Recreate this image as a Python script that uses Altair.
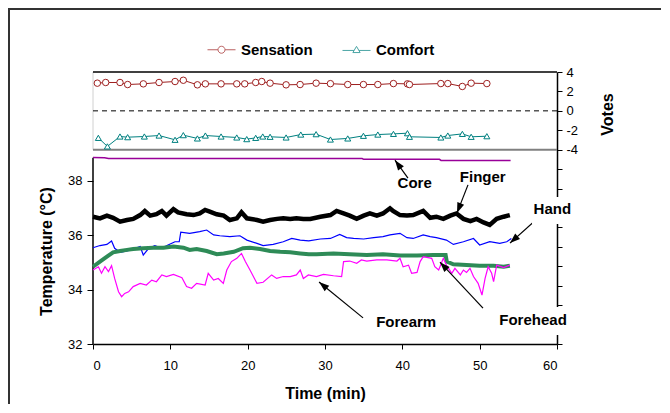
import altair as alt
import pandas as pd
import numpy as np

FONT = "Liberation Sans"

# ---------------- votes (top panel) ----------------
sens_t = [0.56, 1.64, 3.49, 4.48, 6.51, 8.54, 10.61, 11.68, 13.5, 14.53, 16.56, 18.59, 19.62, 21.04, 21.82,
          22.9, 24.97, 26.78, 28.85, 30.7, 32.94, 34.97, 36.83, 38.85, 40.66, 40.92, 44.98, 45.88, 47.76, 48.9, 50.93]
sens_v = [2.85, 2.92, 2.92, 2.71, 2.78, 2.92, 3.02, 3.15, 2.68, 2.78, 2.78, 2.78, 2.78, 2.92, 3.02,
          2.85, 2.68, 2.71, 2.85, 2.80, 2.71, 2.71, 2.71, 2.81, 2.78, 2.71, 2.81, 2.81, 2.51, 2.85, 2.81]
comf_t = [0.69, 1.86, 3.49, 4.48, 6.64, 8.54, 10.61, 11.68, 13.5, 14.53, 16.56, 18.59, 19.88, 21.04, 21.95,
          22.9, 24.97, 26.87, 28.85, 30.7, 32.94, 34.97, 36.83, 38.85, 40.66, 40.92, 44.98, 45.88, 47.76, 48.9, 50.93]
comf_v = [-2.78, -3.66, -2.64, -2.71, -2.64, -2.54, -2.98, -2.50, -2.84, -2.54, -2.64, -2.74, -2.91, -2.78, -2.64,
          -2.67, -2.74, -2.44, -2.40, -2.95, -2.84, -2.57, -2.44, -2.37, -2.30, -2.67, -2.74, -2.54, -2.37, -2.67, -2.61]

# ---------------- temperatures (bottom panel) ----------------
core_t = [0.0, 1.5, 2.0, 34.8, 35.0, 44.8, 45.0, 54.0]
core_T = [38.86, 38.85, 38.82, 38.82, 38.79, 38.79, 38.75, 38.75]

finger_t = [0.0, 0.9, 1.8, 2.6, 3.5, 4.4, 5.2, 6.1, 6.7, 7.4, 8.2, 8.9, 9.5, 10.4, 11.0, 12.1, 13.0, 13.8, 14.5,
            15.1, 16.0, 16.9, 17.7, 18.6, 19.2, 19.9, 21.2, 22.0, 22.9, 23.8, 24.6, 25.5, 26.3, 27.2, 28.1, 29.4,
            30.7, 31.5, 32.4, 33.2, 34.1, 35.0, 35.8, 36.7, 37.5, 38.4, 38.8, 39.7, 40.6, 41.4, 42.7, 43.6, 44.4,
            45.3, 46.2, 47.0, 47.9, 48.8, 49.6, 50.5, 51.3, 52.2, 53.1, 53.9]
finger_T = [36.68, 36.62, 36.72, 36.64, 36.50, 36.56, 36.60, 36.74, 36.89, 36.72, 36.77, 36.89, 36.72, 36.96,
            36.84, 36.77, 36.74, 36.80, 36.93, 36.87, 36.77, 36.72, 36.56, 36.62, 36.84, 36.62, 36.56, 36.50,
            36.56, 36.60, 36.62, 36.60, 36.62, 36.60, 36.60, 36.68, 36.74, 36.89, 36.80, 36.72, 36.60, 36.72,
            36.80, 36.72, 36.80, 36.99, 36.89, 36.74, 36.72, 36.74, 36.89, 36.64, 36.68, 36.60, 36.72, 36.80,
            36.60, 36.52, 36.60, 36.47, 36.38, 36.60, 36.68, 36.74]

hand_t = [0.0, 0.9, 1.8, 2.4, 2.8, 3.5, 4.4, 5.2, 6.1, 6.5, 7.2, 8.0, 8.9, 9.7, 10.6, 11.15, 11.35, 12.5, 13.8,
          14.7, 15.6, 16.4, 17.7, 19.0, 19.9, 21.2, 22.0, 23.3, 24.6, 25.7, 26.8, 27.9, 29.4, 30.7, 31.9, 32.8,
          33.7, 35.0, 36.3, 37.5, 38.4, 39.7, 40.6, 41.4, 42.7, 43.6, 44.4, 45.7, 46.6, 47.9, 49.2, 50.0, 51.3,
          52.6, 53.5, 54.1]
hand_T = [35.54, 35.62, 35.66, 35.79, 35.52, 35.37, 35.42, 35.49, 35.58, 35.27, 35.52, 35.62, 35.52, 35.64,
          35.76, 35.76, 36.11, 36.07, 36.13, 36.19, 36.01, 35.98, 35.95, 35.98, 35.82, 35.70, 35.62, 35.66,
          35.76, 35.88, 35.82, 35.79, 35.86, 35.88, 36.03, 35.91, 35.88, 35.86, 35.91, 35.95, 36.01, 36.07,
          35.91, 35.88, 36.01, 35.95, 35.91, 35.82, 35.66, 35.76, 35.88, 35.64, 35.76, 35.70, 35.76, 35.88]

forehead_t = [0.0, 0.9, 1.8, 2.6, 3.5, 4.4, 5.2, 6.5, 7.8, 9.1, 10.4, 11.7, 12.5, 13.4, 14.7, 16.0, 16.9, 18.2,
              19.4, 20.3, 21.6, 22.9, 24.2, 25.5, 26.8, 27.9, 28.9, 31.1, 33.2, 35.4, 37.5, 39.7, 41.9, 44.0,
              45.6, 45.75, 46.6, 48.3, 50.0, 51.8, 53.1, 53.9]
forehead_T = [34.84, 35.03, 35.21, 35.37, 35.42, 35.46, 35.49, 35.52, 35.54, 35.54, 35.58, 35.54, 35.46, 35.49,
              35.42, 35.30, 35.33, 35.39, 35.52, 35.54, 35.49, 35.42, 35.39, 35.37, 35.33, 35.30, 35.30, 35.33,
              35.30, 35.27, 35.30, 35.25, 35.25, 35.27, 35.27, 35.03, 34.93, 34.90, 34.88, 34.88, 34.84, 34.88]

forearm_t = [0.0, 0.7, 1.1, 1.55, 2.0, 2.4, 2.8, 3.3, 3.7, 4.1, 4.6, 5.2, 6.1, 6.9, 7.6, 8.2, 8.9, 9.5, 10.4,
             11.5, 12.1, 12.75, 13.4, 14.5, 14.9, 15.6, 16.2, 16.85, 17.3, 17.9, 18.6, 19.2, 19.7, 20.3, 21.2,
             22.0, 23.1, 23.75, 24.6, 25.5, 26.3, 26.8, 27.2, 27.85, 28.9, 29.8, 31.1, 32.15, 32.4, 33.2, 34.1,
             34.7, 35.4, 36.7, 38.0, 39.3, 39.7, 40.1, 40.8, 41.2, 41.9, 42.3, 42.7, 43.8, 44.2, 44.7, 45.3,
             45.7, 46.4, 46.8, 47.5, 47.9, 48.3, 48.75, 49.2, 49.8, 50.3, 50.7, 51.1, 51.55, 51.8, 52.2, 53.1, 53.9]
forearm_T = [34.72, 34.84, 34.60, 34.84, 34.66, 34.88, 34.41, 33.92, 33.74, 33.86, 33.92, 34.11, 34.23, 34.17,
             34.35, 34.29, 34.54, 34.48, 34.56, 34.44, 34.11, 34.05, 34.23, 34.17, 34.60, 34.35, 34.41, 34.23,
             34.72, 35.03, 35.15, 35.33, 35.03, 34.72, 34.23, 34.27, 34.54, 34.41, 34.48, 34.48, 34.54, 34.72,
             34.41, 34.54, 34.48, 34.56, 34.51, 34.48, 35.03, 35.05, 34.97, 35.09, 35.05, 35.09, 35.09, 35.05,
             35.15, 34.84, 34.90, 34.60, 34.63, 35.03, 35.21, 35.15, 34.84, 34.72, 35.15, 34.90, 34.60, 34.78,
             34.54, 34.72, 34.63, 34.78, 34.48, 34.23, 33.80, 34.41, 34.84, 34.60, 34.29, 34.90, 34.81, 34.90]

# ---------------- annotations ----------------
ann_label = ["Core", "Finger", "Hand", "Forehead", "Forearm"]
ann_t = [41.6, 50.4, 59.4, 56.9, 40.5]
ann_T = [37.92, 38.15, 36.96, 32.88, 32.82]
arr_t0 = [40.73, 48.49, 57.55, 50.43, 34.92]
arr_T0 = [38.10, 37.85, 36.63, 33.32, 32.96]
arr_t1 = [39.05, 47.07, 53.92, 44.87, 29.23]
arr_T1 = [38.76, 36.82, 35.71, 35.01, 34.28]
bg_t0 = [56.77, 52.0]
bg_t1 = [61.94, 61.94]
bg_T0 = [36.41, 32.33]
bg_T1 = [37.40, 33.36]

# ---------------- geometry ----------------
W, H = 464, 272
PAD = {"left": 85, "top": 64, "right": 104, "bottom": 60}
T_DOM = [32, 42]
V_DOM = [-24, 4]
X_DOM = [0, 60]

px_t = W / (X_DOM[1] - X_DOM[0])
px_T = H / (T_DOM[1] - T_DOM[0])
angles = []
for a, b, c, d in zip(arr_t0, arr_T0, arr_t1, arr_T1):
    dx = (c - a) * px_t
    dy = -(d - b) * px_T
    angles.append(float(np.degrees(np.arctan2(dx, -dy)) % 360))

RED = "#9E1F1F"
TEAL = "#008080"

xs = alt.Scale(domain=X_DOM, nice=False, zero=False)
x_axis = alt.Axis(values=[0, 10, 20, 30, 40, 50, 60], tickSize=5, labelPadding=10, domainWidth=1.5,
                  title="Time (min)", titleY=49, titleBaseline="middle", zindex=0)
Ts = alt.Scale(domain=T_DOM, nice=False, zero=False)
T_axis = alt.Axis(orient="left", values=[32, 34, 36, 38], domain=False, tickSize=6, labelPadding=5,
                  title="Temperature (°C)", titleX=-47, titleY=179, titleAngle=270,
                  titleAlign="center", titleBaseline="middle", zindex=0)
Vs = alt.Scale(domain=V_DOM, nice=False, zero=False)
V_axis = alt.Axis(orient="right", values=list(range(-24, 5, 2)),
                  labelExpr="datum.value >= -4 ? toString(datum.value) : ''",
                  tickSize=5, labelPadding=4, domainWidth=1.5, title="Votes", titleX=50, titleY=42,
                  titleAngle=270, titleAlign="center", titleBaseline="middle", zindex=0)


def X(field="t"):
    return alt.X(f"{field}:Q", scale=xs, axis=x_axis)


def YT(field="T"):
    return alt.Y(f"{field}:Q", scale=Ts, axis=T_axis)


def YV(field="v"):
    return alt.Y(f"{field}:Q", scale=Vs, axis=V_axis)


# ---------------- temperature layers ----------------
def temp_line(t, T, color, width):
    df = pd.DataFrame({"t": t, "T": T})
    return alt.Chart(df).mark_line(color=color, strokeWidth=width).encode(x=X(), y=YT())


# outer frame: top and left sides only, as thin filled bands (no stroke)
one = pd.DataFrame({"a": [0]})
fx = -PAD["left"]
fy = -PAD["top"]
fx2 = W + PAD["right"]
fy2 = H + PAD["bottom"]
frame_top = alt.Chart(one).mark_rect(color="#333333", strokeWidth=0).encode(
    x=alt.value(fx), x2=alt.value(fx2), y=alt.value(fy), y2=alt.value(fy + 2))
frame_left = alt.Chart(one).mark_rect(color="#333333", strokeWidth=0).encode(
    x=alt.value(fx), x2=alt.value(fx + 2), y=alt.value(fy), y2=alt.value(fy2))

left_axis_line = alt.Chart(pd.DataFrame({"t": [0], "T": [32], "T2": [38.85]})).mark_rule(
    color="black", strokeWidth=1.5).encode(x=X(), y=YT(), y2="T2:Q")

arrows_df = pd.DataFrame({"t0": arr_t0, "T0": arr_T0, "t1": arr_t1, "T1": arr_T1, "ang": angles})
shafts = alt.Chart(arrows_df).mark_rule(color="black", strokeWidth=1.2).encode(
    x=X("t0"), x2="t1:Q", y=YT("T0"), y2="T1:Q")
heads = alt.Chart(arrows_df).mark_point(shape="M0,0L-0.6,1.7L0.6,1.7Z", filled=True, color="black",
                                        size=144, opacity=1).encode(
    x=X("t1"), y=YT("T1"), angle=alt.Angle("ang:Q", scale=None))

bg_df = pd.DataFrame({"t0": bg_t0, "t1": bg_t1, "T0": bg_T0, "T1": bg_T1})
bgs = alt.Chart(bg_df).mark_rect(color="white").encode(x=X("t0"), x2="t1:Q", y=YT("T0"), y2="T1:Q")

ann_df = pd.DataFrame({"label": ann_label, "t": ann_t, "T": ann_T})
texts = alt.Chart(ann_df).mark_text(font=FONT, fontSize=15, fontWeight="bold", color="black",
                                    align="center", baseline="middle").encode(
    x=X(), y=YT(), text="label:N")

temp_layer = alt.layer(
    frame_top, frame_left,
    left_axis_line,
    temp_line(core_t, core_T, "#990099", 1.5),
    temp_line(finger_t, finger_T, "black", 4.5),
    temp_line(hand_t, hand_T, "#0000FF", 1.2),
    temp_line(forehead_t, forehead_T, "#2E8B57", 4),
    temp_line(forearm_t, forearm_T, "#FF00FF", 1.2),
    shafts, heads, bgs, texts,
)

# ---------------- votes layers ----------------
sens_df = pd.DataFrame({"t": sens_t, "v": sens_v})
comf_df = pd.DataFrame({"t": comf_t, "v": comf_v})

borders_df = pd.DataFrame({"t": [0], "t2": [60], "top": [4], "zero": [0], "bot": [-4]})
top_border = alt.Chart(borders_df).mark_rule(color="black", strokeWidth=1.5).encode(
    x=X(), x2="t2:Q", y=YV("top"))
zero_line = alt.Chart(borders_df).mark_rule(color="black", strokeWidth=1, strokeDash=[5, 4]).encode(
    x=X(), x2="t2:Q", y=YV("zero"))
bot_border = alt.Chart(borders_df).mark_rule(color="#808080", strokeWidth=2).encode(
    x=X(), x2="t2:Q", y=YV("bot"))
left_border = alt.Chart(borders_df).mark_rule(color="#D0D0D0", strokeWidth=1).encode(
    x=X(), y=YV("bot"), y2="top:Q")

sens_line = alt.Chart(sens_df).mark_line(color=RED, strokeWidth=1).encode(x=X(), y=YV())
sens_pts = alt.Chart(sens_df).mark_point(shape="circle", filled=True, fill="white", stroke=RED,
                                         strokeWidth=1, size=42, opacity=1).encode(x=X(), y=YV())
comf_line = alt.Chart(comf_df).mark_line(color=TEAL, strokeWidth=1).encode(x=X(), y=YV())
comf_pts = alt.Chart(comf_df).mark_point(shape="triangle-up", filled=True, fill="white", stroke=TEAL,
                                         strokeWidth=1, size=36, opacity=1).encode(x=X(), y=YV())

series_names = ["Sensation", "Comfort"]
leg_df = pd.DataFrame({"series": series_names, "t": [sens_t[0], comf_t[0]]})
circle_sym = "M-1,0L-0.25,0M0.25,0L1,0M-0.25,0A0.25,0.25,0,1,1,0.25,0A0.25,0.25,0,1,1,-0.25,0Z"
tri_sym = "M-1,0.05L-0.17,0.05M0.17,0.05L1,0.05M0,-0.24L0.26,0.2L-0.26,0.2Z"
leg = alt.Legend(title=None, orient="none", legendX=114, legendY=-37, direction="horizontal",
                 labelFont=FONT, labelFontSize=15, labelFontWeight="bold", labelColor="black",
                 symbolSize=784, symbolStrokeWidth=1, labelOffset=5, columnPadding=27, padding=0)
legend_layer = alt.Chart(leg_df).mark_point(clip=True, size=784, filled=False, strokeWidth=1).encode(
    x=X(), y=alt.value(-500),
    color=alt.Color("series:N", scale=alt.Scale(domain=series_names, range=[RED, TEAL]), legend=leg),
    shape=alt.Shape("series:N", scale=alt.Scale(domain=series_names, range=[circle_sym, tri_sym]), legend=leg),
)

votes_layer = alt.layer(left_border, top_border, zero_line, bot_border,
                        sens_line, comf_line, sens_pts, comf_pts, legend_layer)

chart = alt.layer(temp_layer, votes_layer).resolve_scale(y="independent").properties(
    width=W, height=H,
    autosize=alt.AutoSizeParams(type="none"),
    padding=PAD,
    background="white",
).configure_view(stroke=None).configure_axis(
    labelFont=FONT, labelFontSize=13, labelColor="black", tickColor="black", domainColor="black",
    titleFont=FONT, titleFontSize=16, titleFontWeight="bold", titleColor="black", grid=False,
)

chart.save("out.html", embed_options={"renderer": "svg", "actions": False})
